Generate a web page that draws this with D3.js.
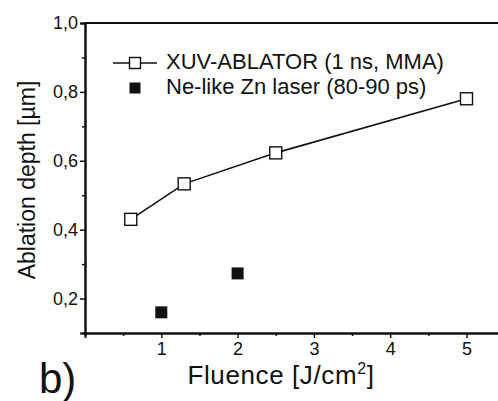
<!DOCTYPE html>
<html><head><meta charset="utf-8">
<script src="https://cdn.jsdelivr.net/npm/d3@7"></script>
<style>body{margin:0;background:#fff}svg{display:block}text{font-family:Arial,"Liberation Sans",sans-serif;fill:#111}</style>
</head><body><svg id="c" width="498" height="401"></svg>
<script>
const xuvFluence = [0.6, 1.3, 2.5, 5.0];
const xuvDepth = [0.43, 0.533, 0.623, 0.78];
const neFluence = [1.0, 2.0];
const neDepth = [0.16, 0.273];
const xTicks = [1, 2, 3, 4, 5];
const xMinor = [0.5, 1.5, 2.5, 3.5, 4.5];
const yTicks = [0.2, 0.4, 0.6, 0.8, 1.0];
const yMinor = [0.3, 0.5, 0.7, 0.9];
const legendLabels = ["XUV-ABLATOR (1 ns, MMA)", "Ne-like Zn laser (80-90 ps)"];

const svg = d3.select("#c");
const x = d3.scaleLinear().domain([0, 5.5]).range([85, 85 + 5.5 * 76.3]);
const y = d3.scaleLinear().domain([0.1, 1.0]).range([333, 23]);
const fmt = d => d3.format(".1f")(d).replace(".", ",");

// axes
svg.append("g").attr("transform", `translate(0,${y(0.1)})`)
  .call(d3.axisBottom(x).tickValues(xTicks).tickSize(5).tickPadding(4).tickFormat(d3.format("d")));
svg.append("g").attr("transform", `translate(0,${y(0.1)})`)
  .call(d3.axisBottom(x).tickValues(xMinor).tickSize(3).tickFormat(""));
svg.append("g").attr("transform", `translate(${x(0)},0)`)
  .call(d3.axisLeft(y).tickValues(yTicks).tickSize(5).tickPadding(2).tickFormat(fmt));
svg.append("g").attr("transform", `translate(${x(0)},0)`)
  .call(d3.axisLeft(y).tickValues(yMinor).tickSize(3).tickFormat(""));
svg.selectAll(".domain").attr("stroke", "#111").attr("stroke-width", 2);
svg.selectAll(".tick line").attr("stroke", "#111").attr("stroke-width", 1.5);
svg.selectAll(".tick text").style("font-size", "18px").attr("fill", "#111");
// top frame line
svg.append("line").attr("x1", x(0)).attr("x2", 498).attr("y1", y(1.0)).attr("y2", y(1.0))
  .attr("stroke", "#111").attr("stroke-width", 2);

// line series
svg.append("path").datum(xuvFluence.map((f, i) => [f, xuvDepth[i]]))
  .attr("fill", "none").attr("stroke", "#111").attr("stroke-width", 1.6)
  .attr("d", d3.line().x(d => x(d[0])).y(d => y(d[1])));
const ms = 12;
svg.selectAll(".xuv").data(xuvFluence.map((f, i) => [f, xuvDepth[i]])).join("rect")
  .attr("x", d => x(d[0]) - ms / 2).attr("y", d => y(d[1]) - ms / 2)
  .attr("width", ms).attr("height", ms).attr("fill", "#fff").attr("stroke", "#111").attr("stroke-width", 1.4);
svg.selectAll(".ne").data(neFluence.map((f, i) => [f, neDepth[i]])).join("rect")
  .attr("x", d => x(d[0]) - ms / 2).attr("y", d => y(d[1]) - ms / 2)
  .attr("width", ms).attr("height", ms).attr("fill", "#111");

// legend
svg.append("line").attr("x1", 113).attr("x2", 157).attr("y1", 63).attr("y2", 63).attr("stroke", "#111").attr("stroke-width", 1.6);
svg.append("rect").attr("x", 135 - 5.5).attr("y", 63 - 5.5).attr("width", 11).attr("height", 11)
  .attr("fill", "#fff").attr("stroke", "#111").attr("stroke-width", 1.4);
svg.append("rect").attr("x", 135 - 5.5).attr("y", 88 - 5.5).attr("width", 11).attr("height", 11).attr("fill", "#111");
svg.append("text").attr("x", 166).attr("y", 69).style("font-size", "22px").text(legendLabels[0]);
svg.append("text").attr("x", 166).attr("y", 94).style("font-size", "22px").text(legendLabels[1]);

// titles
svg.append("text").attr("transform", "translate(35,180) rotate(-90)").attr("text-anchor", "middle")
  .style("font-size", "23px").text("Ablation depth [µm]");
const xt = svg.append("text").attr("x", 281).attr("y", 384).attr("text-anchor", "middle")
  .style("font-size", "26px").style("letter-spacing", "0.6px");
xt.append("tspan").text("Fluence [J/cm");
xt.append("tspan").attr("dy", -10).style("font-size", "16px").text("2");
xt.append("tspan").attr("dy", 10).text("]");
svg.append("text").attr("x", 39).attr("y", 393).style("font-size", "42px").text("b)");
</script></body></html>
